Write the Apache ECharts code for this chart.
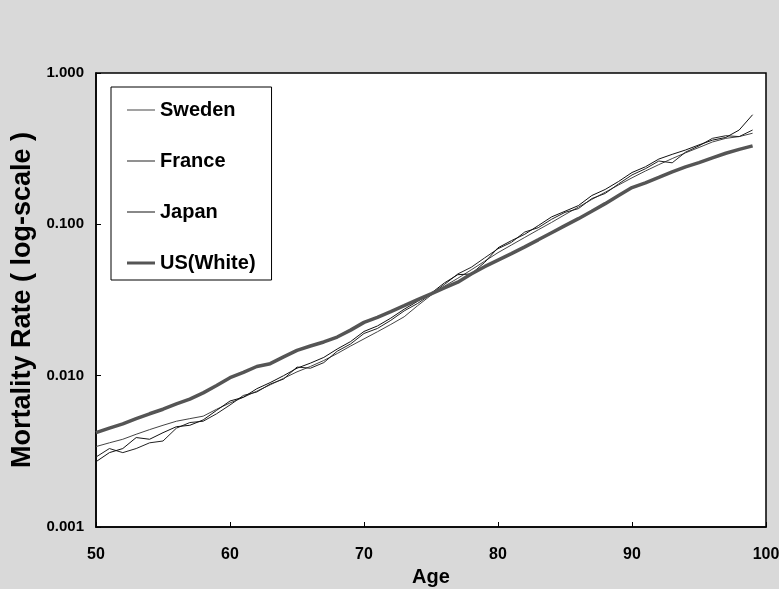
<!DOCTYPE html>
<html>
<head>
<meta charset="utf-8">
<script src="https://cdn.jsdelivr.net/npm/echarts@6/dist/echarts.min.js"></script>
<style>
  html, body { margin: 0; padding: 0; background: #d9d9d9; }
  #chart { width: 779px; height: 589px; }
</style>
</head>
<body>
<div id="chart"></div>
<script>
// ages 50..99
const ages = [];
for (let a = 50; a <= 99; a++) ages.push(a);

const sweden = [
  0.0034, 0.0036, 0.0038, 0.0041, 0.0044, 0.0047, 0.0050, 0.0052, 0.0054, 0.0060,
  0.0066, 0.0072, 0.0079, 0.0087, 0.0096, 0.0106, 0.0115, 0.0126, 0.0140, 0.0157,
  0.0175, 0.0195, 0.0218, 0.0245, 0.0290, 0.0340, 0.0390, 0.0440, 0.0500, 0.0570,
  0.0650, 0.0730, 0.0820, 0.0920, 0.1030, 0.1160, 0.1300, 0.1460, 0.1630, 0.1820,
  0.2030, 0.2250, 0.2480, 0.2720, 0.2970, 0.3220, 0.3500, 0.3700, 0.3800, 0.4000
];
const france = [
  0.0029, 0.0033, 0.0031, 0.0033, 0.0036, 0.0037, 0.0045, 0.0049, 0.0050, 0.0056,
  0.0064, 0.0074, 0.0078, 0.0088, 0.0095, 0.0114, 0.0112, 0.0122, 0.0145, 0.0162,
  0.0190, 0.0205, 0.0232, 0.0268, 0.0300, 0.0345, 0.0400, 0.0470, 0.0520, 0.0600,
  0.0690, 0.0760, 0.0890, 0.0950, 0.1080, 0.1200, 0.1270, 0.1480, 0.1600, 0.1850,
  0.2120, 0.2330, 0.2620, 0.2550, 0.3000, 0.3300, 0.3700, 0.3850, 0.3800, 0.4200
];
const japan = [
  0.0027, 0.0031, 0.0033, 0.0039, 0.0038, 0.0042, 0.0046, 0.0047, 0.0051, 0.0059,
  0.0068, 0.0072, 0.0082, 0.0090, 0.0100, 0.0112, 0.0121, 0.0132, 0.0150, 0.0168,
  0.0196, 0.0213, 0.0240, 0.0275, 0.0310, 0.0350, 0.0410, 0.0465, 0.0470, 0.0560,
  0.0700, 0.0780, 0.0860, 0.0980, 0.1120, 0.1220, 0.1330, 0.1550, 0.1700, 0.1920,
  0.2200, 0.2400, 0.2700, 0.2900, 0.3100, 0.3350, 0.3600, 0.3750, 0.4200, 0.5300
];
const usWhite = [
  0.0042, 0.0045, 0.0048, 0.0052, 0.0056, 0.0060, 0.0065, 0.0070, 0.0077, 0.0086,
  0.0097, 0.0105, 0.0115, 0.0120, 0.0133, 0.0147, 0.0157, 0.0167, 0.0180, 0.0200,
  0.0225, 0.0243, 0.0265, 0.0290, 0.0318, 0.0347, 0.0380, 0.0415, 0.0470, 0.0525,
  0.0580, 0.0640, 0.0710, 0.0790, 0.0880, 0.0980, 0.1090, 0.1220, 0.1370, 0.1550,
  0.1750, 0.1880, 0.2040, 0.2220, 0.2400, 0.2560, 0.2750, 0.2950, 0.3130, 0.3300
];

const xTicks = [50, 60, 70, 80, 90, 100];
const yTicks = [0.001, 0.01, 0.1, 1];

const font = '"Liberation Sans", Arial, sans-serif';

const pairs = vals => ages.map((a, i) => [a, vals[i]]);

const thinLine = (name, vals, color) => ({
  name: name,
  type: 'line',
  data: pairs(vals),
  symbol: 'none',
  lineStyle: { color: color, width: 1 },
  itemStyle: { color: color }
});

// legend swatches: plain strokes, no markers
const thinIcon = 'path://M0,0H28V1H0Z';
const thickIcon = 'path://M0,0H28V3H0Z';

const chart = echarts.init(document.getElementById('chart'));

chart.setOption({
  backgroundColor: '#d9d9d9',
  animation: false,
  grid: {
    left: 96, right: 13, top: 73, bottom: 62,
    outerBoundsMode: 'none',
    show: true,
    backgroundColor: '#ffffff',
    borderColor: '#000',
    borderWidth: 1.5
  },
  legend: {
    orient: 'vertical',
    left: 111,
    top: 87,
    padding: [13, 16, 7, 16],
    itemGap: 31,
    itemWidth: 28,
    itemHeight: 3,
    backgroundColor: '#ffffff',
    borderColor: '#000',
    borderWidth: 1,
    textStyle: { fontFamily: font, fontWeight: 'bold', fontSize: 20, color: '#000' },
    data: [
      { name: 'Sweden', icon: thinIcon },
      { name: 'France', icon: thinIcon },
      { name: 'Japan', icon: thinIcon },
      { name: 'US(White)', icon: thickIcon }
    ]
  },
  xAxis: {
    type: 'value',
    min: xTicks[0],
    max: xTicks[xTicks.length - 1],
    interval: 10,
    name: 'Age',
    nameLocation: 'middle',
    nameGap: 37,
    nameTextStyle: { fontFamily: font, fontWeight: 'bold', fontSize: 20, color: '#000' },
    axisLine: { lineStyle: { color: '#000', width: 1.5 } },
    axisTick: { inside: true, length: 5, lineStyle: { color: '#000' } },
    axisLabel: { margin: 20, fontFamily: font, fontWeight: 'bold', fontSize: 16, color: '#000' },
    splitLine: { show: false }
  },
  yAxis: {
    type: 'log',
    logBase: 10,
    min: yTicks[0],
    max: yTicks[yTicks.length - 1],
    name: 'Mortality Rate ( log-scale )',
    nameLocation: 'middle',
    nameGap: 55,
    nameTextStyle: { fontFamily: font, fontWeight: 'bold', fontSize: 27, color: '#000' },
    axisLine: { lineStyle: { color: '#000', width: 1.5 } },
    axisTick: { inside: true, length: 5, lineStyle: { color: '#000' } },
    axisLabel: {
      margin: 12,
      fontFamily: font, fontWeight: 'bold', fontSize: 15, color: '#000',
      formatter: v => v.toFixed(3)
    },
    minorTick: { show: false },
    splitLine: { show: false }
  },
  series: [
    thinLine('Sweden', sweden, '#444'),
    thinLine('France', france, '#222'),
    thinLine('Japan', japan, '#111'),
    {
      name: 'US(White)',
      type: 'line',
      data: pairs(usWhite),
      symbol: 'none',
      lineStyle: { color: '#555', width: 3.5 },
      itemStyle: { color: '#555' }
    }
  ]
});
</script>
</body>
</html>
